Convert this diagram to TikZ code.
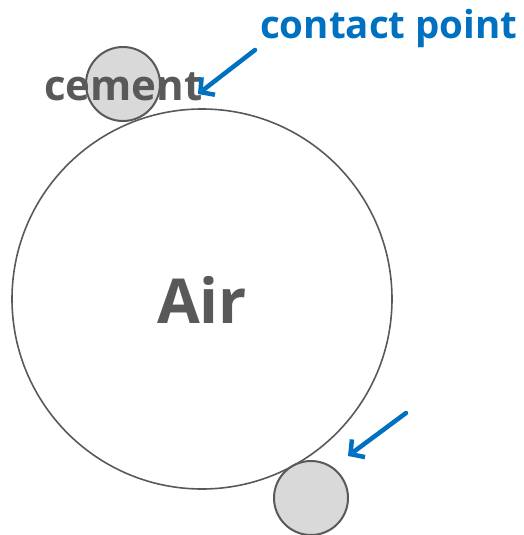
\documentclass[tikz,border=0pt]{standalone}
\usepackage{fontspec}
\setmainfont{Open Sans}
\usetikzlibrary{arrows.meta}
\definecolor{txtgray}{HTML}{595959}
\definecolor{ringgray}{HTML}{595959}
\definecolor{fillgray}{HTML}{D9D9D9}
\definecolor{ptblue}{HTML}{0070C0}
\tikzset{
  bigring/.style={circle, draw=ringgray, line width=1.6pt, minimum size=380pt, inner sep=0pt},
  grain/.style={circle, draw=ringgray, fill=fillgray, line width=2pt, minimum size=74pt, inner sep=0pt},
  lbl/.style={text=txtgray, font=\bfseries, inner sep=0pt},
  pointer/.style={draw=ptblue, line width=4.5pt, line cap=round, -{Straight Barb[length=10pt,width=22pt,line width=4.5pt]}}
}
\begin{document}
\begin{tikzpicture}[x=1pt,y=-1pt]
\useasboundingbox (0,0) rectangle (523,535);
\node[bigring] (air) at (202,299) {};
\node[grain] (g1) at (123,84) {};
\node[grain] (g2) at (311,498) {};
\node[lbl, font=\fontsize{62}{62}\selectfont\bfseries] (airtxt) at (202,300) {Air};
\node[lbl, font=\fontsize{42}{42}\selectfont\bfseries, anchor=base west] (cem) at (44,100) {cement};
\node[text=ptblue, inner sep=0pt, font=\fontsize{38.5}{38.5}\selectfont\bfseries, anchor=base west] (cp) at (260,38) {contact point};
\coordinate (a1s) at (255,50);
\coordinate (a1e) at (198,94);
\coordinate (a2s) at (406,413);
\coordinate (a2e) at (348,456);
\draw[pointer] (a1s) -- (a1e);
\draw[pointer] (a2s) -- (a2e);
\end{tikzpicture}
\end{document}
